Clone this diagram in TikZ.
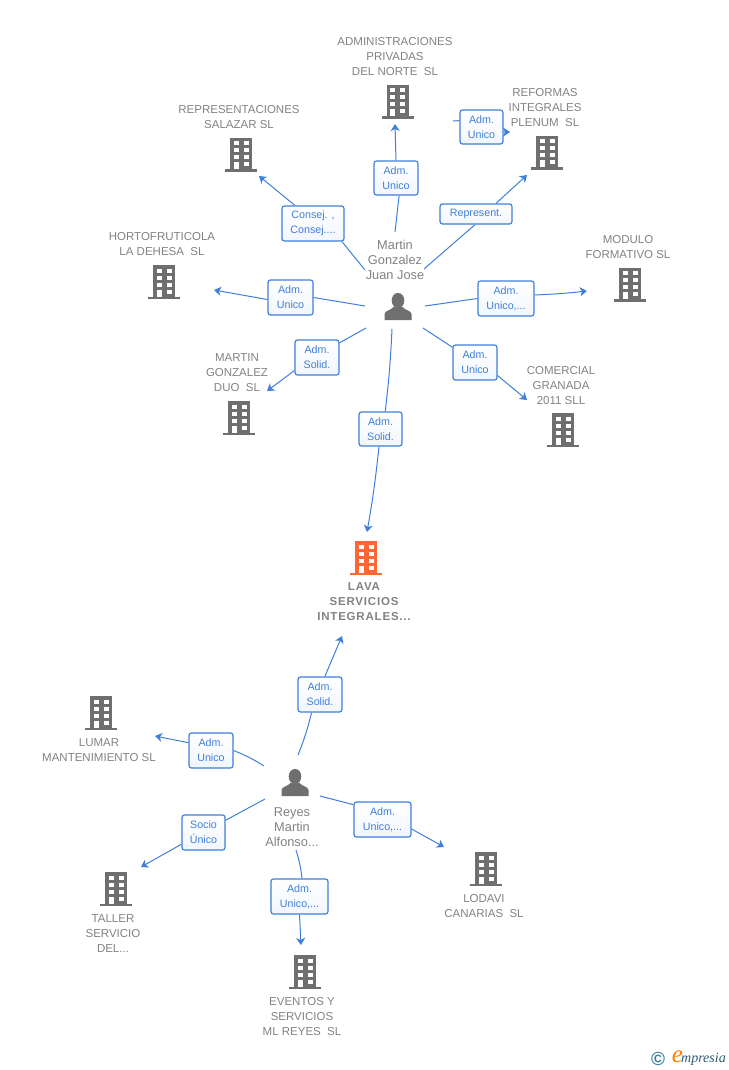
\documentclass[tikz,border=0pt]{standalone}
\usepackage{fontspec}
\setmainfont{Liberation Sans}
\newfontfamily\logofont{Liberation Serif}
\usetikzlibrary{arrows.meta}
\definecolor{wireblue}{HTML}{3F7FDC}
\definecolor{txtgrey}{HTML}{828282}
\definecolor{iconGrey}{HTML}{6F6F6F}
\definecolor{iconOrange}{HTML}{FF6633}
\definecolor{logoblue}{HTML}{3F7F9F}
\tikzset{
	wire/.style={color=wireblue, line width=1pt},
	arrowwire/.style={wire, -{Stealth[length=7pt, width=9pt, inset=2pt]}},
	roleBox/.style={draw=wireblue, top color=white, bottom color=wireblue!7, line width=1.2pt, rounded corners=2.5pt, align=center, text=wireblue, inner sep=0pt, font=\fontsize{10.7}{15}\selectfont},
	firm/.style={text=txtgrey, align=center, inner sep=0pt, font=\fontsize{11.5}{15}\selectfont},
	who/.style={text=txtgrey, align=center, inner sep=0pt, font=\fontsize{12.8}{15}\selectfont},
	building/.pic={
		\fill[pic actions] (-16,-2.5) rectangle (16,0);
		\fill[pic actions] (-11,-34) rectangle (11,-2);
		\foreach \r in {-30.5,-23.5,-16.5} {
			\fill[white] (-7.5,\r) rectangle (-2.5,\r+4);
			\fill[white] (2.5,\r) rectangle (7.5,\r+4);
		}
		\fill[white] (-7.5,-9.5) rectangle (-2.5,-2.5);
		\fill[white] (2.5,-9.5) rectangle (7.5,-5.5);
	},
	person/.pic={
		\fill[iconGrey] (0,-6.5) ellipse (6.3 and 7.6);
		\fill[iconGrey] (-13.5,13) -- (-13.5,7) .. controls (-13.5,3.5) and (-7,3.5) .. (-4.5,0) -- (4.5,0) .. controls (7,3.5) and (13.5,3.5) .. (13.5,7) -- (13.5,13) -- cycle;
	}
}
\begin{document}
\begin{tikzpicture}[x=1pt, y=-1pt]
	\useasboundingbox (0,0) rectangle (728,1070);

	% empresas
	\pic[fill=iconGrey] at (397.5,119) {building};
	\node[firm] (admPriv) at (395,57) {ADMINISTRACIONES\\PRIVADAS\\DEL NORTE\ \ SL};
	\pic[fill=iconGrey] at (547,169.5) {building};
	\node[firm] (reformas) at (545,108) {REFORMAS\\INTEGRALES\\PLENUM\ \ SL};
	\pic[fill=iconGrey] at (241,171.5) {building};
	\node[firm] (represen) at (239,117.5) {REPRESENTACIONES\\SALAZAR SL};
	\pic[fill=iconGrey] at (164,299) {building};
	\node[firm] (horto) at (162,244.5) {HORTOFRUTICOLA\\LA DEHESA\ \ SL};
	\pic[fill=iconGrey] at (630,301.5) {building};
	\node[firm] (modulo) at (628,247.5) {MODULO\\FORMATIVO SL};
	\pic[fill=iconGrey] at (239,435) {building};
	\node[firm] (duo) at (237,373) {MARTIN\\GONZALEZ\\DUO\ \ SL};
	\pic[fill=iconGrey] at (563,447) {building};
	\node[firm] (comercial) at (561,386) {COMERCIAL\\GRANADA\\2011 SLL};
	\pic[fill=iconOrange] at (366,575) {building};
	\node[firm, font=\fontsize{11.5}{15}\selectfont\bfseries\addfontfeatures{LetterSpace=7}] (lava) at (364,602) {LAVA\\SERVICIOS\\INTEGRALES...};
	\pic[fill=iconGrey] at (101,730) {building};
	\node[firm] (lumar) at (99,750.5) {LUMAR\\MANTENIMIENTO SL};
	\pic[fill=iconGrey] at (116,906) {building};
	\node[firm] (taller) at (113,934) {TALLER\\SERVICIO\\DEL...};
	\pic[fill=iconGrey] at (486,886) {building};
	\node[firm] (lodavi) at (484,906.5) {LODAVI\\CANARIAS\ \ SL};
	\pic[fill=iconGrey] at (305,989) {building};
	\node[firm] (eventos) at (302,1017) {EVENTOS Y\\SERVICIOS\\ML REYES\ \ SL};

	% personas
	\pic at (398,307) {person};
	\node[who] (martin) at (395,260) {Martin\\Gonzalez\\Juan Jose};
	\pic at (295,783) {person};
	\node[who] (reyes) at (292,827) {Reyes\\Martin\\Alfonso...};

	% cargos
	\node[roleBox, minimum width=44pt, minimum height=34pt] (rAdm) at (396,178) {Adm.\\Unico};
	\node[roleBox, minimum width=43pt, minimum height=34pt] (rRef) at (481.5,127) {Adm.\\Unico};
	\node[roleBox, minimum width=62pt, minimum height=35pt] (rRep) at (313,223.5) {Consej. ,\\Consej....};
	\node[roleBox, minimum width=72pt, minimum height=20pt] (rPlen) at (476,214) {Represent.};
	\node[roleBox, minimum width=45pt, minimum height=35pt] (rHor) at (290.5,297.5) {Adm.\\Unico};
	\node[roleBox, minimum width=56pt, minimum height=35pt] (rMod) at (506,298.5) {Adm.\\Unico,...};
	\node[roleBox, minimum width=44pt, minimum height=35pt] (rDuo) at (317,357.5) {Adm.\\Solid.};
	\node[roleBox, minimum width=44pt, minimum height=35pt] (rCom) at (475,362.5) {Adm.\\Unico};
	\node[roleBox, minimum width=43pt, minimum height=34pt] (rLava) at (380.5,429) {Adm.\\Solid.};
	\node[roleBox, minimum width=44pt, minimum height=35pt] (rSol) at (320,694.5) {Adm.\\Solid.};
	\node[roleBox, minimum width=44pt, minimum height=35pt] (rLum) at (211,750.5) {Adm.\\Unico};
	\node[roleBox, minimum width=43pt, minimum height=35pt] (rTal) at (203.5,832.5) {Socio\\Único};
	\node[roleBox, minimum width=57pt, minimum height=35pt] (rLod) at (382.5,819.5) {Adm.\\Unico,...};
	\node[roleBox, minimum width=57pt, minimum height=35pt] (rEve) at (299.5,896.5) {Adm.\\Unico,...};

	% extremos libres
	\coordinate (mA) at (395,232); \coordinate (tA) at (395,124);
	\coordinate (mB) at (453,121); \coordinate (tB) at (510,132);
	\coordinate (mC) at (365,270); \coordinate (tC) at (259,176);
	\coordinate (mD) at (424,269); \coordinate (tD) at (527,175);
	\coordinate (mE) at (365,306); \coordinate (tE) at (214,290);
	\coordinate (mF) at (425,306); \coordinate (tF) at (587,291);
	\coordinate (mG) at (366,328); \coordinate (tG) at (267,391);
	\coordinate (mH) at (423,328); \coordinate (tH) at (527,400);
	\coordinate (mI) at (392,329); \coordinate (tI) at (367,532);
	\coordinate (rA) at (298,755); \coordinate (uA) at (342,636);
	\coordinate (rB) at (264,766); \coordinate (uB) at (155,736);
	\coordinate (rC) at (265,799); \coordinate (uC) at (141,867);
	\coordinate (rD) at (320,796); \coordinate (uD) at (444,847);
	\coordinate (rE) at (296,850); \coordinate (uE) at (301,945);

	% conexiones
	\draw[wire] (mA) -- (rAdm.280);
	\draw[arrowwire] (rAdm.north) -- (tA);
	\draw[wire] (mB) -- (rRef.164);
	\draw[arrowwire] (rRef.-13) -- (tB);
	\draw[wire] (mC) -- (rRep.-32);
	\draw[arrowwire] (rRep.135) -- (tC);
	\draw[wire] (mD) -- (rPlen.265);
	\draw[arrowwire] (rPlen.28) -- (tD);
	\draw[wire] (mE) -- (rHor.east);
	\draw[arrowwire] (rHor.185) -- (tE);
	\draw[wire] (mF) -- (rMod.west);
	\draw[arrowwire] (rMod.7) to[bend right=2] (tF);
	\draw[wire] (mG) -- (rDuo.33);
	\draw[arrowwire] (rDuo.210) -- (tG);
	\draw[wire] (mH) -- (rCom.146);
	\draw[arrowwire] (rCom.-30) -- (tH);
	\draw[wire] (mI) to[bend left=2] (rLava.75);
	\draw[arrowwire] (rLava.265) to[bend left=2] (tI);
	\draw[wire] (rA) to[bend right=4] (rSol.245);
	\draw[arrowwire] (rSol.75) -- (uA);
	\draw[wire] (rB) to[bend right=5] (rLum.east);
	\draw[arrowwire] (rLum.161) -- (uB);
	\draw[wire] (rC) -- (rTal.29);
	\draw[arrowwire] (rTal.208) -- (uC);
	\draw[wire] (rD) -- (rLod.153);
	\draw[arrowwire] (rLod.-18) -- (uD);
	\draw[wire] (rE) to[bend left=5] (rEve.82);
	\draw[arrowwire] (rEve.south) -- (uE);

	% logo
	\node[text=logoblue, inner sep=0pt, font=\fontsize{19}{19}\selectfont\bfseries] (copyr) at (658,1058.5) {©};
	\node[text=orange, inner sep=0pt, font=\logofont\fontsize{25}{25}\selectfont\itshape] (logoE) at (677.5,1057) {e};
	\node[text=logoblue!70!black, inner sep=0pt, anchor=base west, font=\logofont\fontsize{14}{14}\selectfont\itshape] (logoTxt) at (681,1062) {mpresia};
\end{tikzpicture}
\end{document}
